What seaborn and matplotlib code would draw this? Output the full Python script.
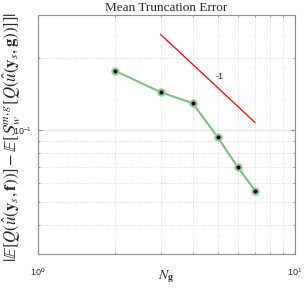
#!/usr/bin/env python3
"""
    Mean truncation error vs number of g-nodes (log-log)
"""
import matplotlib
matplotlib.use("Agg")
import matplotlib.pyplot as plt
import seaborn as sns
import pandas as pd
from matplotlib.ticker import LogLocator, NullFormatter

n_g = [2, 3, 4, 5, 6, 7]
trunc_err = [0.176, 0.1436, 0.129, 0.0932, 0.0697, 0.0556]

# reference slope -1 triangle side
ref_x = [3, 7]
ref_y = [0.25, 0.75 / 7]
ref_label = "-1"

sns.set_style("ticks")
plt.rcParams["mathtext.fontset"] = "stix"
plt.rcParams["font.family"] = ["Liberation Sans", "DejaVu Sans"]

df = pd.DataFrame({"N": n_g, "err": trunc_err})

fig = plt.figure(figsize=(3.05, 2.9), dpi=100)
ax = fig.add_axes([0.1246, 0.124, 0.8424, 0.824])

sns.lineplot(data=df, x="N", y="err", ax=ax, color="#7fbf7f", linewidth=1.5,
             marker="o", markersize=4.5, markerfacecolor="black",
             markeredgecolor="#8fcf8f", markeredgewidth=1.5)
sns.lineplot(x=ref_x, y=ref_y, ax=ax, color="red", linewidth=0.9)
ax.text(5.1, 0.1667, ref_label, fontsize=6.5, ha="center", va="center")

ax.set_xscale("log")
ax.set_yscale("log")
ax.set_xlim(1, 10)
ax.set_ylim(0.0303, 0.301)

ax.yaxis.set_minor_locator(LogLocator(base=10, subs=range(2, 10), numticks=20))
ax.yaxis.set_minor_formatter(NullFormatter())
ax.xaxis.set_minor_formatter(NullFormatter())

ax.grid(True, which="major", color="0.9", linewidth=1.0, linestyle="-")
ax.grid(True, which="minor", color="0.82", linewidth=0.6, linestyle=":")

for s in ax.spines.values():
    s.set_color("0.55")
    s.set_linewidth(0.8)
ax.tick_params(which="both", direction="in", top=True, right=True,
               color="0.55", labelsize=6.5)
ax.tick_params(axis="x", pad=9)
ax.tick_params(axis="y", pad=4)
ax.tick_params(which="major", length=3)
ax.tick_params(which="minor", length=1.5)

ax.set_title("Mean Truncation Error", fontsize=9.5, family="Liberation Serif", pad=3)
ax.set_xlabel(r"$N_{\mathbf{g}}$", fontsize=10, va="center")
ax.xaxis.set_label_coords(0.5, -0.096)
ax.set_ylabel(r"$|\mathbb{E}[Q(\hat{u}(\mathbf{y}_s,\mathbf{f}))]-"
              r"\mathbb{E}[\mathcal{S}_w^{m,g}[Q(\hat{u}(\mathbf{y}_s,\mathbf{g}))]]|$",
              fontsize=12.1, va="center")
ax.yaxis.set_label_coords(-0.104, 0.49)

fig.savefig("out.png", dpi=100)
